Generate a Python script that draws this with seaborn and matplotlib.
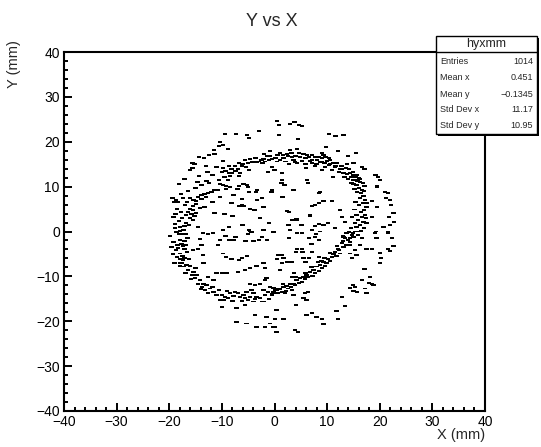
import numpy as np
import pandas as pd
import matplotlib
matplotlib.use("Agg")
import matplotlib.pyplot as plt
import seaborn as sns
from matplotlib.markers import MarkerStyle
from matplotlib.patches import Rectangle
from matplotlib.ticker import MultipleLocator

# ---- data (mm) ----
upper_left = [(-9.4, 21.7), (-10.4, 20.0), (-9.8, 19.3), (-10.6, 19.1), (-8.8, 18.3), (-11.5, 18.2),
              (-11.4, 17.2), (-12.5, 17.0), (-14.4, 16.5), (-13.4, 16.3), (-9.8, 15.7), (-15.6, 15.3),
              (-15.2, 15.0), (-15.6, 14.2), (-16.1, 13.6), (-10.0, 13.3), (-9.3, 13.5), (-8.2, 13.9),
              (-8.6, 13.0), (-14.4, 12.4), (-17.1, 11.8), (-9.5, 12.2), (-8.4, 12.4), (-8.8, 11.5),
              (-10.6, 11.5), (-12.5, 10.9), (-10.4, 10.6), (-9.8, 10.4), (-18.2, 10.6), (-9.2, 10.1)]

upper_mid = [(0.5, 24.7), (0.9, 23.7), (3.0, 24.0), (3.8, 24.3), (4.6, 23.7), (5.2, 23.6), (-7.3, 21.7),
             (-5.2, 21.5), (-4.8, 20.8), (-2.9, 22.4), (0.8, 21.4), (4.5, 20.6), (-0.8, 17.9), (1.1, 17.4),
             (2.4, 17.3), (3.0, 18.2), (4.3, 18.4), (3.2, 17.6), (4.6, 17.4), (5.5, 17.3), (6.2, 17.0),
             (6.6, 16.7), (7.1, 17.0), (7.7, 16.5), (8.5, 16.5), (8.1, 15.9), (7.1, 15.9), (5.9, 16.3),
             (5.2, 15.8), (4.0, 16.8), (3.3, 16.7), (2.6, 16.8), (1.7, 16.3), (1.1, 15.9), (0.2, 16.3),
             (-1.4, 16.8), (-1.0, 15.9), (-0.5, 16.1), (-2.1, 16.1), (-2.5, 15.9), (-3.0, 15.6),
             (-3.3, 15.4), (-4.2, 15.4), (-2.3, 15.3), (-1.8, 15.6), (0.5, 15.6), (2.1, 15.6), (3.6, 15.9),
             (4.3, 15.2), (7.1, 15.2), (7.7, 14.5), (2.7, 15.0), (-5.0, 15.3), (-6.1, 15.0), (-6.7, 15.2),
             (-6.2, 14.5), (-5.4, 14.3), (-6.9, 13.9), (-4.8, 13.7), (-7.4, 13.5), (-8.1, 13.9),
             (-8.1, 13.0), (-6.5, 13.1), (-6.8, 12.4), (-1.2, 13.3), (-0.5, 14.3), (0.0, 13.7), (1.4, 13.0),
             (6.0, 14.1), (6.2, 11.5), (6.4, 10.7), (1.3, 10.7), (1.9, 10.4), (-5.9, 10.6), (-5.2, 10.4),
             (-6.8, 10.1)]

upper_right = [(10.3, 21.7), (11.6, 21.3), (13.1, 21.4), (9.8, 18.9), (12.1, 18.0), (9.0, 17.4), (9.3, 17.1),
               (9.7, 16.5), (9.0, 16.3), (10.3, 16.3), (10.0, 15.8), (10.6, 15.9), (9.0, 15.6), (9.5, 15.2),
               (11.2, 15.3), (11.9, 15.2), (11.6, 14.6), (10.3, 14.8), (14.0, 16.9), (15.5, 17.6),
               (12.7, 14.6), (13.8, 15.0), (15.0, 15.2), (12.8, 13.9), (13.6, 14.1), (14.2, 13.9),
               (9.0, 13.7), (10.9, 13.6), (12.2, 13.3), (13.1, 13.0), (13.8, 12.8), (14.4, 13.1),
               (14.9, 13.3), (15.0, 12.6), (16.6, 14.3), (17.1, 13.9), (14.6, 12.2), (15.4, 12.1),
               (16.0, 11.9), (15.0, 11.5), (15.7, 11.3), (16.3, 11.6), (11.1, 12.2), (19.2, 12.6),
               (19.7, 12.1), (20.1, 11.5), (15.0, 10.6), (15.7, 10.4), (17.1, 10.1), (19.5, 10.1)]

right_band = [(15.0, 12.2), (15.6, 12.6), (15.9, 11.5), (16.2, 11.1), (15.5, 10.4), (16.1, 9.8), (16.6, 9.3),
              (15.7, 8.9), (16.4, 8.5), (16.9, 7.9), (16.2, 7.4), (17.2, 7.0), (16.8, 6.3), (16.1, 5.9),
              (17.5, 5.5), (17.0, 4.8), (16.4, 4.4), (17.2, 3.7), (16.6, 3.2), (15.9, 2.6), (16.9, 2.2),
              (17.5, 1.8), (16.2, 1.5), (15.6, 1.1), (17.0, 0.7), (16.4, 0.2), (15.3, 0.0), (15.9, -0.8),
              (15.0, -1.2), (14.3, -1.5), (16.6, -1.5), (14.9, -0.4), (15.3, 1.8), (14.7, 3.3)]

right_outer = [(19.5, 10.0), (21.0, 8.9), (21.6, 8.5), (21.2, 7.4), (21.9, 7.0), (22.1, 5.9), (22.6, 4.1),
               (21.8, 3.3), (22.7, 2.2), (21.9, 1.5), (20.7, 0.9), (19.3, 0.0), (21.6, -0.4), (22.3, -1.5),
               (19.5, 5.5), (18.5, 6.7), (18.5, 3.3)]

right_inner = [(1.4, 11.5), (3.7, 9.3), (8.6, 8.7), (9.3, 6.9), (10.9, 6.9), (1.6, 7.6), (3.6, 2.6), (4.2, 2.7),
               (2.6, 1.5), (2.9, 0.3), (6.7, 3.5), (9.3, 1.5), (10.2, 1.8), (8.6, 0.0), (11.5, 0.7),
               (13.1, -1.2), (12.4, 4.8), (12.8, 3.3), (13.4, 2.2)]

mid_left = [(-11.4, 9.2), (-12.0, 8.8), (-12.6, 8.6), (-10.7, 9.3), (-9.2, 9.5), (-8.5, 9.9), (-13.3, 8.3),
            (-13.9, 8.1), (-14.5, 7.7), (-14.9, 6.9), (-13.9, 7.3), (-13.0, 7.7), (-19.4, 7.5), (-18.7, 7.1),
            (-18.3, 6.6), (-19.0, 6.6), (-17.4, 7.5), (-16.1, 7.5), (-11.8, 6.6), (-10.3, 7.7), (-8.2, 6.4),
            (-14.9, 6.1), (-15.5, 5.6), (-13.3, 5.5), (-14.2, 5.3), (-16.1, 5.1), (-15.5, 4.7), (-16.4, 4.3),
            (-15.8, 4.0), (-14.9, 4.1), (-16.8, 3.6), (-16.0, 3.1), (-15.5, 2.5), (-15.2, 3.4), (-19.2, 3.2),
            (-18.2, 2.3), (-11.4, 4.1), (-9.5, 4.0), (-8.0, 3.4), (-16.8, 1.9), (-17.1, 1.2), (-16.3, 1.4),
            (-14.5, 1.0), (-17.3, 0.4), (-18.0, 0.1), (-18.1, -0.5), (-17.5, -0.6), (-16.9, -0.6),
            (-12.6, -0.5), (-11.7, -0.3), (-13.6, -0.3), (-19.9, -1.1), (-9.8, 0.4), (-8.7, 0.9),
            (-9.3, -1.1), (-10.4, -1.8), (-8.7, -1.8), (-8.0, -2.0), (-14.2, -1.6), (-18.0, -1.8),
            (-17.1, -2.1), (-17.7, -2.7), (-16.9, -2.9), (-17.4, -3.3), (-13.9, -2.9), (-10.7, -3.1),
            (-18.7, -4.2), (-17.1, -4.0), (-15.5, -4.2), (-14.5, -4.0), (-17.9, -4.9), (-17.5, -5.5),
            (-17.1, -5.8), (-18.0, -6.1), (-17.4, -6.4), (-13.6, -5.3), (-9.8, -4.9), (-9.2, -5.7),
            (-8.2, -6.1), (-19.0, -7.0), (-18.0, -7.0)]

center = [(-7.0, 9.5), (-5.0, 9.9), (-4.8, 8.8), (-3.5, 8.8), (-3.3, 9.3), (-0.5, 9.2), (-0.6, 8.8), (3.6, 9.3),
          (8.5, 8.6), (-7.8, 8.1), (-6.2, 7.3), (-3.3, 7.0), (-2.4, 7.5), (1.4, 7.7), (-6.8, 5.6), (-6.2, 5.8),
          (-5.9, 5.6), (-4.6, 5.1), (-3.8, 4.7), (-2.1, 5.5), (2.4, 4.6), (2.8, 4.3), (7.1, 5.6), (7.7, 5.8),
          (8.5, 6.4), (6.8, 3.6), (-2.7, 3.1), (-1.1, 1.9), (3.3, 2.6), (4.3, 2.6), (2.7, 1.4), (5.1, 1.4),
          (7.7, 1.2), (8.5, 1.7), (7.1, 0.4), (-6.1, 1.4), (-4.9, 0.3), (-4.4, -0.1), (-5.0, -0.5),
          (-4.6, 0.0), (-2.1, 0.3), (-0.2, -0.1), (4.3, -0.3), (5.2, -0.3), (-7.4, -1.2), (-7.8, -2.0),
          (-5.5, -2.1), (-4.0, -2.1), (-2.9, -1.8), (-2.4, -1.2), (-1.4, -2.0), (2.8, -1.4), (6.5, -1.4),
          (7.9, -0.5), (8.5, -1.8), (7.0, -2.7), (7.7, -1.2), (4.3, -3.8), (5.2, -3.8), (4.1, -4.6),
          (5.3, -4.6), (7.1, -4.6), (0.7, -5.3), (1.4, -5.3), (1.7, -5.8), (0.5, -6.1), (2.4, -6.8),
          (3.2, -6.8), (5.5, -5.8), (6.5, -5.8), (8.5, -5.7), (8.9, -6.6), (5.9, -6.8), (-5.2, -5.5),
          (-6.2, -5.8), (-6.8, -6.3)]

lower_left = [(-17.6, -7.1), (-16.7, -7.5), (-17.3, -7.8), (-16.1, -7.7), (-16.4, -8.6), (-15.4, -9.0),
              (-15.7, -9.7), (-14.8, -9.7), (-15.1, -10.4), (-14.2, -10.8), (-14.5, -11.6), (-13.5, -11.6),
              (-12.9, -11.9), (-13.8, -12.3), (-12.3, -12.7), (-13.2, -13.0), (-11.6, -13.4), (-12.6, -13.8),
              (-11.0, -14.2), (-10.0, -14.2), (-9.4, -14.5), (-8.8, -14.9), (-9.7, -15.3), (-8.5, -13.8),
              (-7.5, -13.4), (-6.9, -13.8), (-6.6, -14.5), (-5.9, -14.2), (-5.6, -14.9), (-5.3, -13.4),
              (-4.7, -14.5), (-5.0, -15.3), (-4.0, -13.8), (-3.4, -14.5), (-2.8, -14.9), (-2.4, -15.6),
              (-1.8, -14.2), (-1.2, -13.4), (-0.5, -14.2), (0.1, -13.0), (0.7, -12.7), (0.4, -13.8),
              (-0.9, -12.3), (-2.1, -13.0),
              (-13.5, -7.1), (-11.0, -9.3), (-10.0, -9.2), (-9.1, -9.3), (-12.6, -10.1), (-11.6, -10.8),
              (-6.9, -9.0), (-5.6, -8.6), (-4.7, -8.2), (-3.4, -7.7), (-2.1, -7.1), (-1.8, -8.2),
              (-4.7, -11.6), (-3.7, -11.9), (-2.8, -11.6), (-1.8, -10.8), (-1.5, -10.4), (-10.0, -16.8),
              (-7.2, -20.1), (-5.3, -20.5), (-3.4, -21.2), (-3.7, -18.6), (-1.5, -19.1), (-1.8, -21.2),
              (-0.9, -20.5), (0.1, -21.2), (-7.2, -17.1), (-5.6, -16.4), (-4.0, -15.6)]

lower_right = [(13.7, -0.4), (14.7, -0.8), (13.4, -1.5), (14.0, -1.9), (12.8, -2.6), (14.3, -3.0),
               (13.1, -3.4), (12.1, -3.8), (11.5, -4.5), (12.4, -4.9), (10.9, -5.6), (11.8, -5.5),
               (10.2, -6.2), (9.3, -6.7), (9.9, -7.1), (8.7, -7.5), (8.0, -7.8), (9.0, -8.2), (7.4, -8.6),
               (6.7, -9.0), (7.7, -9.3), (6.1, -9.7), (5.5, -10.1), (6.4, -10.2), (4.8, -10.4), (4.2, -10.8),
               (5.2, -11.2), (3.6, -11.6), (2.9, -11.7), (3.9, -11.9), (2.3, -12.2), (1.7, -12.3),
               (2.6, -12.7), (1.0, -12.9), (0.4, -13.0), (1.4, -13.4), (-0.2, -13.4), (0.7, -13.8),
               (-0.5, -13.9), (2.0, -13.8), (3.3, -13.0),
               (1.4, -7.1), (1.0, -8.6), (3.3, -10.1), (3.7, -9.3), (6.4, -13.4), (5.8, -13.8), (5.5, -14.9),
               (3.6, -14.2), (6.1, -15.3), (4.1, -16.4), (0.4, -17.5), (1.7, -19.4), (0.1, -19.6),
               (-0.2, -21.2), (0.4, -22.3), (3.9, -22.0), (4.5, -22.3), (6.1, -18.6), (7.1, -18.2),
               (8.0, -19.0), (9.0, -19.4), (9.3, -20.6), (11.8, -17.7), (12.1, -19.4), (12.8, -14.5),
               (13.4, -16.6), (14.3, -12.5), (14.9, -11.9), (15.3, -12.3), (15.7, -13.4), (15.0, -13.2),
               (16.6, -10.8), (17.1, -8.4), (18.1, -10.2), (18.0, -11.4), (18.5, -11.6), (18.8, -11.9),
               (17.2, -12.7), (17.5, -13.6), (20.0, -4.7), (20.2, -6.0), (20.0, -7.1), (21.9, -4.3),
               (22.6, -3.2), (21.6, -3.8), (17.5, -3.8), (18.5, -3.9), (15.6, -5.2), (16.2, -3.0),
               (15.3, -4.1), (14.3, -4.9), (14.7, -6.0), (15.6, 0.0), (19.1, -0.4), (19.4, -1.5), (21.6, 0.0)]

# extra points in the densest parts of the ring
left_band_extra = [(-18.5, 5.0), (-17.8, 4.4), (-18.8, 3.9), (-17.6, 2.9), (-18.9, 1.6), (-17.9, 1.0),
                   (-18.6, -0.2), (-19.2, -2.4), (-18.4, -3.0), (-16.5, -1.4), (-18.3, -3.7), (-16.6, -4.6),
                   (-18.5, -5.6), (-16.3, -6.2), (-17.9, -7.6), (-19.3, -5.0), (-19.6, -3.5), (-18.9, 0.8),
                   (-17.0, 5.8), (-16.6, 6.5), (-15.4, 7.0), (-17.8, 8.3), (-16.4, 9.1), (-15.0, 9.6),
                   (-13.9, 10.3), (-12.9, 11.2), (-14.6, 11.0), (-11.8, 12.6), (-12.7, 13.2), (-11.0, 14.3),
                   (-13.0, 14.6)]
bottom_band_extra = [(-15.9, -10.5), (-14.0, -12.9), (-13.0, -12.0), (-11.8, -12.3), (-10.6, -13.1),
                     (-10.4, -15.3), (-9.0, -13.3), (-8.0, -15.4), (-7.8, -14.4), (-6.2, -15.4), (-4.4, -13.1),
                     (-3.7, -15.1), (-2.1, -15.6), (-1.1, -15.0), (-0.2, -12.6), (-16.9, -9.2), (-15.0, -8.1)]
right_band_extra = [(1.6, -11.6), (2.2, -13.2), (3.1, -12.4), (4.6, -11.4), (4.0, -10.2), (5.8, -10.6),
                    (5.9, -9.2), (7.2, -9.9), (7.0, -8.0), (8.4, -8.9), (8.3, -6.9), (9.6, -7.6), (9.5, -5.9),
                    (10.6, -6.6), (10.5, -4.8), (11.2, -5.1), (11.9, -3.2), (12.3, -4.1), (13.0, -2.1),
                    (13.6, -2.9), (13.0, -0.9), (14.4, -2.4), (14.1, -0.1), (14.5, 0.8), (15.6, 3.7),
                    (15.2, 4.9), (17.4, 2.9), (15.4, 6.6), (17.6, 6.4), (15.2, 9.5), (17.0, 9.0),
                    (14.6, 10.9), (16.8, 10.8), (14.0, 11.8), (13.3, 12.2), (12.5, 14.0), (11.5, 14.3),
                    (10.5, 15.0), (9.6, 14.4), (8.6, 15.4), (8.0, 15.0), (6.7, 15.7), (5.9, 15.0),
                    (4.9, 16.7), (3.9, 15.5), (1.6, 17.0), (0.6, 17.0), (-0.9, 16.9), (-2.0, 17.2),
                    (-3.6, 16.3), (-4.6, 16.1), (-5.6, 15.9), (-7.5, 14.6), (-8.6, 14.6), (-9.8, 14.2)]

# stats box text
stats_name = "hyxmm"
stats_labels = ["Entries", "Mean x", "Mean y", "Std Dev x", "Std Dev y"]
stats_values = ["1014", "0.451", "\u22120.1345", "11.17", "10.95"]

regions = [upper_left, upper_mid, upper_right, right_band, right_outer, right_inner,
           mid_left, center, lower_left, lower_right,
           left_band_extra, bottom_band_extra, right_band_extra]
df = pd.DataFrame([p for r in regions for p in r], columns=["x", "y"])

sns.set_theme(style="white")
plt.rcParams["font.family"] = ["Liberation Sans", "DejaVu Sans"]
plt.rcParams["axes.unicode_minus"] = True

W, H = 541, 447
fig = plt.figure(figsize=(W / 100, H / 100), dpi=100)
ax = fig.add_axes([64 / W, (H - 411) / H, 421 / W, 359 / H])

dash = MarkerStyle([(-1.0, -0.45), (1.0, -0.45), (1.0, 0.45), (-1.0, 0.45)])
sns.scatterplot(data=df, x="x", y="y", ax=ax, marker=dash, s=10, color="black",
                linewidth=0, edgecolor="none", legend=False)

ax.set_xlim(-40, 40)
ax.set_ylim(-40, 40)
ax.xaxis.set_major_locator(MultipleLocator(10))
ax.xaxis.set_minor_locator(MultipleLocator(2))
ax.yaxis.set_major_locator(MultipleLocator(10))
ax.yaxis.set_minor_locator(MultipleLocator(2))
ax.tick_params(which="major", direction="in", length=6, width=1.4, labelsize=10, pad=3,
               bottom=True, left=True, top=False, right=False, colors="black")
ax.tick_params(which="minor", direction="in", length=3, width=1.4,
               bottom=True, left=True, top=False, right=False, colors="black")
for sp in ax.spines.values():
    sp.set_linewidth(1.5)
    sp.set_color("black")
ax.set_xlabel("")
ax.set_ylabel("")

fig.text(272 / W, 1 - 22 / H, "Y vs X", ha="center", va="center", fontsize=13)
fig.text(485 / W, 1 - 435 / H, "X (mm)", ha="right", va="center", fontsize=10.5)
fig.text(14 / W, 1 - 40 / H, "Y (mm)", ha="center", va="top", rotation=90, fontsize=10.5)

# stats box
bx0, by0, bx1, by1 = 436, 36, 537, 134
shadow = Rectangle((bx0 / W + 2 / W, 1 - (by1 + 2) / H), (bx1 - bx0) / W, (by1 - by0) / H,
                   transform=fig.transFigure, facecolor="black", edgecolor="none", zorder=5)
box = Rectangle((bx0 / W, 1 - by1 / H), (bx1 - bx0) / W, (by1 - by0) / H,
                transform=fig.transFigure, facecolor="white", edgecolor="black", linewidth=1, zorder=6)
fig.add_artist(shadow)
fig.add_artist(box)
fig.add_artist(plt.Line2D([bx0 / W, bx1 / W], [1 - 52 / H, 1 - 52 / H], transform=fig.transFigure,
                          color="black", linewidth=1, zorder=7))
fig.text((bx0 + bx1) / 2 / W, 1 - 44 / H, stats_name, ha="center", va="center", fontsize=9, zorder=8)
rows_y = [62, 78, 94, 110, 126]
for lab, val, yy in zip(stats_labels, stats_values, rows_y):
    fig.text(440 / W, 1 - yy / H, lab, ha="left", va="center", fontsize=6.5, zorder=8)
    fig.text(533 / W, 1 - yy / H, val, ha="right", va="center", fontsize=6.5, zorder=8)

fig.savefig("out.png", dpi=100)
